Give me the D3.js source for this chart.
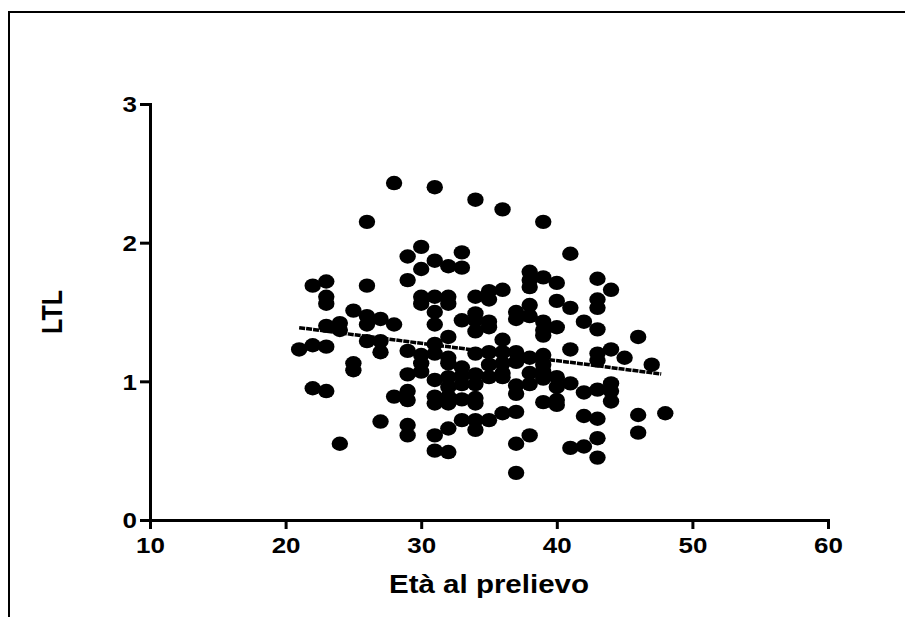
<!DOCTYPE html>
<html>
<head>
<meta charset="utf-8">
<script src="https://cdn.jsdelivr.net/npm/d3@7"></script>
<style>
  body { margin: 0; background: #fff; }
  svg { display: block; }
  .tick text, .label { font-family: "Liberation Sans", Arial, sans-serif; font-weight: bold; fill: #000; }
</style>
</head>
<body>
<div id="chart"></div>
<script>
// ages on the x axis, LTL values at each age
var ages = [21, 22, 23, 24, 25, 26, 27, 28, 29, 30, 31, 32, 33, 34,
            35, 36, 37, 38, 39, 40, 41, 42, 43, 44, 45, 46, 47, 48];
var ltlByAge = [
  [1.23],
  [1.69, 1.26, 0.95],
  [1.72, 1.61, 1.56, 1.40, 1.25, 0.93],
  [1.42, 1.37, 0.55],
  [1.51, 1.13, 1.08],
  [2.15, 1.69, 1.47, 1.41, 1.29],
  [1.45, 1.29, 1.21, 0.71],
  [2.43, 1.41, 0.89],
  [1.90, 1.73, 1.22, 1.05, 0.93, 0.865, 0.685, 0.61],
  [1.97, 1.81, 1.61, 1.56, 1.19, 1.13, 1.07],
  [2.40, 1.87, 1.61, 1.50, 1.41, 1.27, 1.20, 1.01, 0.89, 0.84, 0.61, 0.50],
  [1.83, 1.61, 1.56, 1.32, 1.17, 1.13, 1.03, 0.96, 0.89, 0.84, 0.66, 0.49],
  [1.93, 1.82, 1.44, 1.10, 1.04, 0.98, 0.87, 0.72],
  [2.31, 1.61, 1.49, 1.44, 1.36, 1.20, 1.05, 0.98, 0.88, 0.84, 0.72, 0.65],
  [1.65, 1.59, 1.43, 1.39, 1.21, 1.12, 1.03, 0.72],
  [2.24, 1.66, 1.30, 1.21, 1.13, 1.06, 1.03, 0.77],
  [1.50, 1.45, 1.21, 1.14, 0.97, 0.91, 0.78, 0.55, 0.34],
  [1.79, 1.73, 1.68, 1.55, 1.47, 1.17, 1.06, 0.98, 0.61],
  [2.15, 1.75, 1.43, 1.37, 1.33, 1.19, 1.12, 1.07, 1.02, 0.85],
  [1.71, 1.58, 1.39, 1.03, 0.96, 0.865, 0.83],
  [1.92, 1.53, 1.23, 0.985, 0.52],
  [1.43, 0.92, 0.75, 0.53],
  [1.74, 1.59, 1.53, 1.375, 1.20, 1.15, 0.94, 0.73, 0.59, 0.45],
  [1.66, 1.23, 0.985, 0.93, 0.855],
  [1.17],
  [1.32, 0.757, 0.63],
  [1.12],
  [0.77]
];
// linear fit endpoints
var fitX = [21, 47.7];
var fitY = [1.387, 1.053];

var xTicks = [10, 20, 30, 40, 50, 60];
var yTicks = [0, 1, 2, 3];
var xTitle = 'Età al prelievo';
var yTitle = 'LTL';

var W = 905, H = 617;
var stretch = 1.18; // the source image is a bit wider than tall

var svg = d3.select('#chart').append('svg')
  .attr('width', W)
  .attr('height', H);

// frame (only top and left edges show in the picture)
svg.append('path')
  .attr('d', 'M9,617 V12 H905')
  .attr('fill', 'none')
  .attr('stroke', '#000')
  .attr('stroke-width', 2);

var x = d3.scaleLinear().domain([10, 60]).range([150, 828]);
var y = d3.scaleLinear().domain([0, 3]).range([520, 104]);

var points = [];
ages.forEach(function(a, i) {
  ltlByAge[i].forEach(function(v) { points.push({ age: a, ltl: v }); });
});

var xAxis = svg.append('g')
  .attr('transform', 'translate(0,520)')
  .call(d3.axisBottom(x).tickValues(xTicks).tickFormat(d3.format('d'))
    .tickSize(9).tickSizeOuter(0).tickPadding(8));
xAxis.selectAll('text')
  .attr('font-size', 22)
  .attr('dy', '0.71em')
  .attr('transform', 'scale(' + stretch + ',1)')
  .attr('x', 0);

var yAxis = svg.append('g')
  .attr('transform', 'translate(150,0)')
  .call(d3.axisLeft(y).tickValues(yTicks).tickFormat(d3.format('d'))
    .tickSize(10).tickSizeOuter(0));
yAxis.selectAll('text')
  .attr('font-size', 22)
  .attr('x', 0)
  .attr('dy', '0.36em')
  .attr('transform', 'translate(-13,0) scale(' + stretch + ',1)');

svg.selectAll('.domain, .tick line')
  .attr('stroke', '#000')
  .attr('stroke-width', 3);
svg.selectAll('.domain').attr('stroke-linecap', 'square');

// points
svg.append('g').selectAll('ellipse')
  .data(points)
  .enter().append('ellipse')
  .attr('cx', function(d) { return x(d.age); })
  .attr('cy', function(d) { return y(d.ltl); })
  .attr('rx', 8.2)
  .attr('ry', 7.2)
  .attr('fill', '#000');

// regression line
svg.append('line')
  .attr('x1', x(fitX[0])).attr('y1', y(fitY[0]))
  .attr('x2', x(fitX[1])).attr('y2', y(fitY[1]))
  .attr('stroke', '#000')
  .attr('stroke-width', 3.5)
  .attr('stroke-dasharray', '6 1');

// titles
svg.append('text')
  .attr('class', 'label')
  .attr('font-size', 25)
  .attr('text-anchor', 'middle')
  .attr('transform', 'translate(' + x(35) + ',593) scale(' + stretch + ',1)')
  .text(xTitle);

svg.append('text')
  .attr('class', 'label')
  .attr('font-size', 25)
  .attr('text-anchor', 'middle')
  .attr('transform', 'translate(62,' + y(1.5) + ') rotate(-90) scale(1,' + stretch + ')')
  .text(yTitle);
</script>
</body>
</html>
